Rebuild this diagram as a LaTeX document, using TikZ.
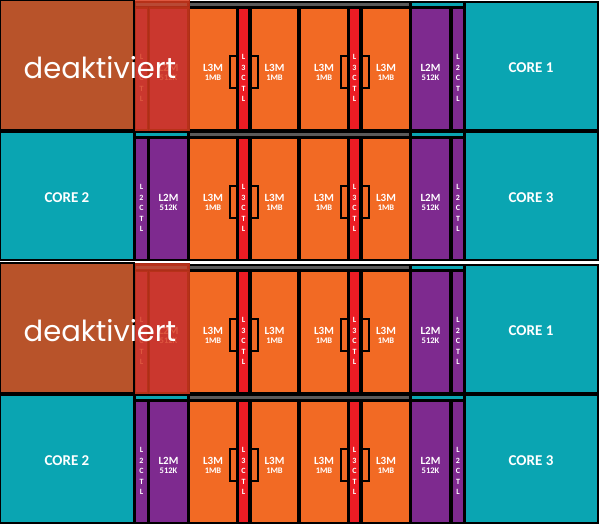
\documentclass[tikz,border=0pt]{standalone}
\usepackage{fontspec}
\setmainfont{Carlito}
\newfontfamily\geo{Poppins}
\definecolor{teal1}{HTML}{0AA5B2}
\definecolor{or1}{HTML}{F26A24}
\definecolor{red1}{HTML}{EC1C24}
\definecolor{pur1}{HTML}{7E2A8F}
\definecolor{gr1}{HTML}{5A5A5A}
\definecolor{brn}{HTML}{B8532A}
\definecolor{dred}{HTML}{D83A1E}
\tikzset{
 blk/.style={draw=black,line width=1.4pt},
 lbl/.style={text=white,font=\bfseries\fontsize{11}{10}\selectfont,align=center,inner sep=0},
 ctl/.style={text=white,font=\bfseries\fontsize{8}{10.5}\selectfont,align=center,inner sep=0},
 corel/.style={text=white,font=\bfseries\fontsize{15}{15}\selectfont,inner sep=0},
}
\begin{document}
\begin{tikzpicture}[x=1pt,y=-1pt]
\useasboundingbox (0,0) rectangle (600,527);
\fill[white] (0,0) rectangle (600,527);
\foreach \t/\n/\cleft/\cright/\dis in {2/a/deaktiviert/CORE 1/1,132/b/CORE 2/CORE 3/0,265/c/deaktiviert/CORE 1/1,395/d/CORE 2/CORE 3/0}{
  \draw[blk,fill=gr1] (189,\t) rectangle (410,\t+5);
  \draw[blk,fill=teal1] (411,\t) rectangle (464,\t+5);
  \draw[blk,fill=teal1] (135,\t) rectangle (188,\t+5);
  \foreach \xa/\xb/\k in {189/237/1,251/298/2,300/348/3,362/410/4}{
    \draw[blk,fill=or1] (\xa,\t+6) rectangle (\xb,\t+128);
    \node[lbl] (l3\n\k) at ({(\xa+\xb)/2},\t+70) {L3M\\[-1pt]{\fontsize{8.5}{9}\selectfont 1MB}};
  }
  \foreach \xa/\k in {238/1,349/2}{
    \draw[blk] (\xa-8,\t+54) rectangle (\xa+20,\t+86);
    \draw[blk,fill=red1] (\xa,\t+6) rectangle (\xa+11,\t+128);
    \node[ctl] (c3\n\k) at (\xa+5.5,\t+76) {L\\3\\C\\T\\L};
  }
  \draw[blk,fill=pur1] (411,\t+6) rectangle (450,\t+128);
  \node[lbl] (l2r\n) at (430.5,\t+70) {L2M\\[-1pt]{\fontsize{8.5}{9}\selectfont 512K}};
  \draw[blk,fill=pur1] (452,\t+6) rectangle (464,\t+128);
  \node[ctl] (c2r\n) at (458,\t+76) {L\\2\\C\\T\\L};
  \draw[blk,fill=pur1] (149,\t+6) rectangle (188,\t+128);
  \node[lbl] (l2l\n) at (168.5,\t+70) {L2M\\[-1pt]{\fontsize{8.5}{9}\selectfont 512K}};
  \draw[blk,fill=pur1] (135,\t+6) rectangle (148,\t+128);
  \node[ctl] (c2l\n) at (141.5,\t+76) {L\\2\\C\\T\\L};
  \draw[blk,fill=teal1] (465,\t) rectangle (598,\t+128);
  \node[corel] (cr\n) at (531,\t+66) {\cright};
  \ifnum\dis=1
    \fill[dred,opacity=0.85] (134,\t-2) rectangle (189,\t+129);
    \draw[dred!80!black,line width=1pt] (134,\t-2) rectangle (189,\t+129);
    \draw[dred!80!black,line width=1pt] (148,\t+5) -- (148,\t+129) (134,\t+5) -- (189,\t+5);
    \draw[blk,fill=brn] (0,\t-2) rectangle (134,\t+128);
    \node[text=white,font=\geo\fontsize{29}{29}\selectfont,inner sep=0] (cl\n) at (100,\t+66) {deaktiviert};
  \else
    \draw[blk,fill=teal1] (0,\t) rectangle (134,\t+128);
    \node[corel] (cl\n) at (67,\t+66) {\cleft};
  \fi
}
\end{tikzpicture}
\end{document}
